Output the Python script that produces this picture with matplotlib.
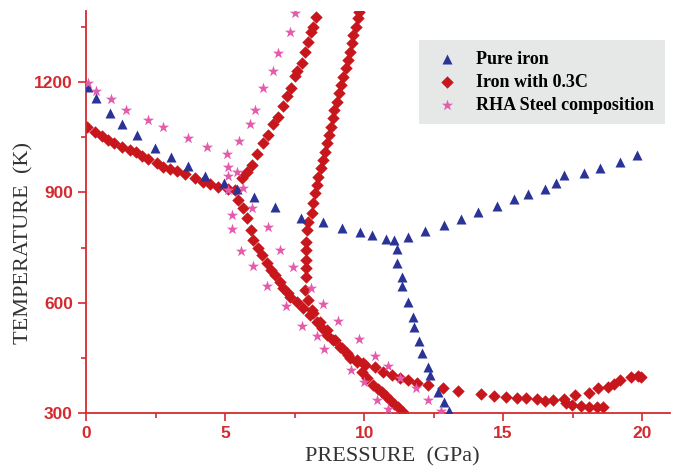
import matplotlib
matplotlib.use("Agg")
from matplotlib import pyplot as plt
from matplotlib.ticker import MultipleLocator

# ---- data (pressure in GPa, temperature in K) ----
pure_iron_p = [0.07, 0.36, 0.86, 1.29, 1.83, 2.48, 3.06, 3.67, 4.28, 4.96, 5.43, 6.04,
               6.80, 7.73, 8.53, 9.21, 9.86, 10.29, 10.79, 11.08, 11.58, 12.19, 12.88,
               13.49, 14.10, 14.78, 15.40, 15.90, 16.51, 16.91, 17.19, 17.91, 18.49,
               19.21, 19.82,
               11.19, 11.19, 11.37, 11.37, 11.58, 11.76, 11.80, 11.98, 12.09, 12.30,
               12.37, 12.66, 12.88, 13.06]
pure_iron_t = [1188, 1158, 1117, 1087, 1057, 1022, 997, 973, 945, 926, 910, 888,
               861, 831, 820, 804, 793, 785, 774, 771, 779, 796, 812,
               828, 847, 864, 883, 896, 910, 926, 948, 954, 967,
               984, 1003,
               746, 708, 670, 645, 602, 561, 534, 496, 463, 425,
               403, 356, 329, 305]

# iron with 0.3C: several branches, listed one after another
iron_c_p = [0.04, 0.32, 0.58, 0.79, 1.00, 1.29, 1.58, 1.80, 2.01, 2.23, 2.55, 2.77,
            3.02, 3.27, 3.56, 3.92, 4.21, 4.46, 4.75, 5.11, 5.36,
            # up from the triple point
            5.61, 5.79, 5.97, 6.15, 6.37, 6.55, 6.73, 6.91, 7.09, 7.23, 7.37, 7.52,
            7.59, 7.77, 7.88, 7.99, 8.09, 8.17, 8.27,
            # down from the triple point
            5.47, 5.65, 5.79, 5.94, 6.01, 6.19, 6.33, 6.51, 6.65, 6.80, 6.98, 7.09,
            7.27, 7.34, 7.59, 7.81, 8.06, 8.31, 8.49, 8.67, 8.88, 9.14, 9.39, 9.50,
            9.75, 9.93, 10.11, 10.32, 10.50, 10.65, 10.79, 10.94, 11.08, 11.22, 11.40,
            # steep branch
            7.88, 7.91, 7.91, 7.91, 7.91, 7.91, 7.95, 7.99, 8.13, 8.17, 8.24, 8.31,
            8.35, 8.45, 8.53, 8.60, 8.67, 8.74, 8.81, 8.88, 8.92, 9.03, 9.10, 9.17,
            9.24, 9.35, 9.42, 9.50, 9.57, 9.60, 9.71, 9.78, 9.82,
            # second descending branch and the flat part
            7.99, 8.13, 8.17, 8.42, 8.67, 8.96, 9.21, 9.42, 9.75, 9.96, 10.04, 10.40,
            10.68, 11.01, 11.29, 11.58, 11.91, 12.30, 12.84, 13.38, 14.21, 14.68,
            15.11, 15.50, 15.83, 16.22, 16.51, 16.80, 17.19, 17.27,
            # rising end
            17.59, 18.09, 18.42, 18.78, 18.99, 19.21, 19.60, 19.86, 19.96,
            # falling end
            17.48, 17.81, 18.09, 18.38, 18.60]
iron_c_t = [1078, 1066, 1055, 1044, 1036, 1025, 1017, 1009, 1000, 992, 981, 970,
            965, 959, 951, 940, 929, 924, 916, 910, 908,
            940, 956, 975, 1005, 1035, 1057, 1087, 1106, 1136, 1164, 1186, 1216,
            1230, 1254, 1284, 1309, 1336, 1352, 1377,
            880, 858, 831, 798, 771, 749, 730, 708, 689, 676, 656, 640,
            626, 616, 602, 586, 566, 547, 531, 512, 498, 479, 463, 449,
            438, 411, 395, 376, 365, 356, 346, 335, 324, 316, 302,
            635, 670, 694, 716, 744, 765, 798, 820, 845, 872, 899, 921,
            943, 967, 989, 1011, 1035, 1057, 1079, 1103, 1125, 1147, 1172, 1194,
            1215, 1240, 1262, 1284, 1308, 1330, 1352, 1376, 1393,
            607, 580, 572, 547, 525, 498, 477, 457, 444, 436, 430, 425,
            411, 403, 395, 389, 381, 376, 367, 359, 351, 345,
            343, 340, 340, 337, 332, 335, 337, 326,
            348, 354, 367, 370, 378, 389, 397, 400, 397,
            321, 318, 316, 316, 316]

rha_p = [0.07, 0.36, 0.90, 1.44, 2.23, 2.77, 3.67, 4.35, 5.07, 5.11, 5.11, 5.43,
         5.11, 5.65, 5.50, 5.90, 6.08, 6.37, 6.73, 6.91, 7.34, 7.52,
         5.97, 5.25, 5.25, 6.55, 5.58, 6.98, 6.01, 7.45, 6.51, 8.09, 7.19, 8.53,
         7.77, 9.06, 8.31, 9.82, 8.56, 10.40, 9.53, 10.86, 10.00, 11.29, 11.87,
         10.47, 10.86, 12.30, 12.77]
rha_t = [1199, 1177, 1155, 1125, 1098, 1079, 1049, 1025, 1005, 970, 945, 956,
         907, 913, 1041, 1087, 1125, 1185, 1232, 1281, 1338, 1390,
         858, 839, 801, 806, 741, 744, 700, 697, 646, 640, 591, 596,
         536, 550, 509, 501, 474, 455, 416, 427, 384, 395, 367,
         335, 310, 335, 305]

labels = ["Pure iron", "Iron with 0.3C", "RHA Steel composition"]

axis_red = "#d42a2e"

fig = plt.figure(figsize=(6.78, 4.69), dpi=100)
ax = fig.add_axes([0.127, 0.120, 0.861, 0.857])

ax.scatter(pure_iron_p, pure_iron_t, marker="^", s=52, color="#2a3496",
           linewidths=0, label=labels[0], zorder=3)
ax.scatter(iron_c_p, iron_c_t, marker="D", s=40, color="#c8161d",
           linewidths=0, label=labels[1], zorder=2)
ax.scatter(rha_p, rha_t, marker="*", s=72, color="#e45bac",
           linewidths=0, label=labels[2], zorder=4)

ax.set_xlim(0, 21)
ax.set_ylim(300, 1395)

# only left and bottom axis lines, in red
for side in ["top", "right"]:
    ax.spines[side].set_visible(False)
for side in ["left", "bottom"]:
    ax.spines[side].set_color(axis_red)
    ax.spines[side].set_linewidth(1.3)

ax.xaxis.set_major_locator(MultipleLocator(5))
ax.xaxis.set_minor_locator(MultipleLocator(2.5))
ax.yaxis.set_major_locator(MultipleLocator(300))
ax.yaxis.set_minor_locator(MultipleLocator(150))
ax.tick_params(which="major", direction="out", length=6, width=1.2,
               color=axis_red, labelcolor=axis_red, labelsize=12.5)
ax.tick_params(which="minor", direction="out", length=3.5, width=1.2, color=axis_red)
for t in ax.get_xticklabels() + ax.get_yticklabels():
    t.set_fontweight("bold")
    t.set_family("Liberation Sans")

ax.set_xlabel("PRESSURE  (GPa)", family="Liberation Serif", fontsize=16,
              color="#333333")
ax.xaxis.set_label_coords(0.525, -0.087)
ax.set_ylabel("TEMPERATURE  (K)", family="Liberation Serif", fontsize=16,
              color="#333333")
ax.yaxis.set_label_coords(-0.090, 0.423)

leg = ax.legend(loc="upper right", bbox_to_anchor=(0.981, 0.915),
                bbox_transform=fig.transFigure, borderaxespad=0,
                frameon=True, fancybox=False, framealpha=1,
                facecolor="#e6e8e8", edgecolor="none",
                prop={"family": "Liberation Serif", "weight": "bold", "size": 13},
                handletextpad=0.6, labelspacing=0.33, borderpad=0.6,
                scatterpoints=1)

fig.savefig("out.png", dpi=100)
